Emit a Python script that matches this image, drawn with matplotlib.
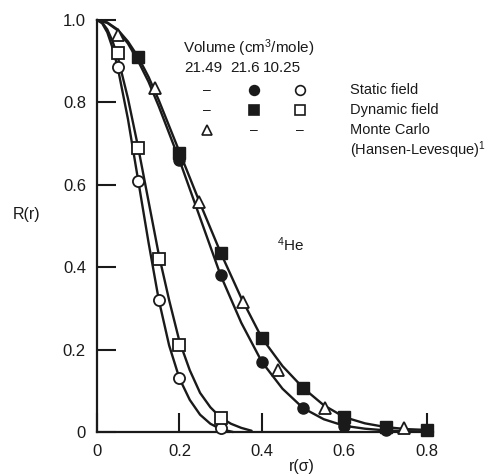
import matplotlib
matplotlib.use("Agg")
import matplotlib.pyplot as plt

plt.rcParams['font.family'] = ['Liberation Sans', 'DejaVu Sans']
plt.rcParams['mathtext.fontset'] = 'custom'
plt.rcParams['mathtext.rm'] = 'Liberation Sans'
plt.rcParams['mathtext.it'] = 'Liberation Sans:italic'

# smooth curves
r_static_lo = [0, 0.0125, 0.025, 0.0375, 0.05, 0.075, 0.1, 0.125, 0.15, 0.175, 0.2, 0.225,
               0.25, 0.275, 0.3, 0.33]
R_static_lo = [1.0, 0.992, 0.970, 0.933, 0.886, 0.76, 0.61, 0.46, 0.32, 0.21, 0.13, 0.078,
               0.042, 0.02, 0.007, 0.0]

r_dyn_lo = [0, 0.0125, 0.025, 0.0375, 0.05, 0.075, 0.1, 0.125, 0.15, 0.175, 0.2, 0.225,
            0.25, 0.275, 0.3, 0.325, 0.35, 0.375]
R_dyn_lo = [1.0, 0.994, 0.977, 0.949, 0.912, 0.81, 0.69, 0.56, 0.43, 0.32, 0.22, 0.15,
            0.095, 0.06, 0.035, 0.02, 0.01, 0.003]

r_dyn_hi = [0, 0.025, 0.05, 0.075, 0.1, 0.125, 0.15, 0.2, 0.25, 0.3, 0.35, 0.4, 0.45, 0.5,
            0.55, 0.6, 0.65, 0.7, 0.75, 0.8]
R_dyn_hi = [1.0, 0.994, 0.977, 0.948, 0.91, 0.862, 0.805, 0.68, 0.555, 0.435, 0.325, 0.228,
            0.16, 0.107, 0.065, 0.036, 0.021, 0.012, 0.007, 0.005]

r_static_hi = [0, 0.025, 0.05, 0.075, 0.1, 0.125, 0.15, 0.2, 0.25, 0.3, 0.35, 0.4, 0.45, 0.5,
               0.55, 0.6, 0.65, 0.7, 0.75, 0.8]
R_static_hi = [1.0, 0.993, 0.975, 0.943, 0.9, 0.85, 0.79, 0.66, 0.52, 0.38, 0.265, 0.17,
               0.105, 0.058, 0.031, 0.015, 0.008, 0.004, 0.002, 0.001]

# marker points
pts_static_hi_r = [0.2, 0.3, 0.4, 0.5, 0.6, 0.7]
pts_static_hi_R = [0.66, 0.38, 0.17, 0.058, 0.015, 0.004]
pts_dyn_hi_r = [0.1, 0.2, 0.3, 0.4, 0.5, 0.6, 0.7, 0.8]
pts_dyn_hi_R = [0.91, 0.677, 0.435, 0.228, 0.107, 0.036, 0.012, 0.005]
pts_static_lo_r = [0.05, 0.1, 0.15, 0.2, 0.3]
pts_static_lo_R = [0.886, 0.61, 0.32, 0.13, 0.01]
pts_dyn_lo_r = [0.05, 0.1, 0.15, 0.2, 0.3]
pts_dyn_lo_R = [0.92, 0.69, 0.42, 0.21, 0.035]
pts_mc_r = [0.05, 0.14, 0.247, 0.355, 0.44, 0.553, 0.745]
pts_mc_R = [0.963, 0.835, 0.558, 0.315, 0.15, 0.058, 0.01]

volumes = ["21.49", "21.6", "10.25"]
rows = ["Static field", "Dynamic field", "Monte Carlo", "(Hansen-Levesque)$^1$"]
xticks = [0, 0.2, 0.4, 0.6, 0.8]
xlabels = ["0", "0.2", "0.4", "0.6", "0.8"]
yticks = [0, 0.2, 0.4, 0.6, 0.8, 1.0]
ylabels = ["0", "0.2", "0.4", "0.6", "0.8", "1.0"]

ink = "#1a1a1a"
fig = plt.figure(figsize=(4.94, 4.75), dpi=100)
ax = fig.add_axes([97 / 494, 1 - 432 / 475, 336 / 494, 412 / 475])
ax.set_xlim(0, 0.815)
ax.set_ylim(0, 1.0)

lw = 1.7
for r, R in [(r_static_lo, R_static_lo), (r_dyn_lo, R_dyn_lo),
             (r_dyn_hi, R_dyn_hi), (r_static_hi, R_static_hi)]:
    ax.plot(r, R, color=ink, lw=lw, solid_capstyle='round', solid_joinstyle='round',
            clip_on=False)

ms = 8
ax.plot(pts_static_hi_r, pts_static_hi_R, 'o', ms=ms, color=ink, clip_on=False, zorder=3)
ax.plot(pts_dyn_hi_r, pts_dyn_hi_R, 's', ms=ms, color=ink, clip_on=False, zorder=3)
ax.plot(pts_static_lo_r, pts_static_lo_R, 'o', ms=ms, mfc='white', mec=ink, mew=1.3,
        clip_on=False, zorder=3)
ax.plot(pts_dyn_lo_r, pts_dyn_lo_R, 's', ms=ms, mfc='white', mec=ink, mew=1.3,
        clip_on=False, zorder=3)
ax.plot(pts_mc_r, pts_mc_R, '^', ms=ms + 1, mfc='white', mec=ink, mew=1.3,
        clip_on=False, zorder=3)

for s in ['top', 'right']:
    ax.spines[s].set_visible(False)
for s in ['left', 'bottom']:
    ax.spines[s].set_linewidth(1.6)
    ax.spines[s].set_color(ink)

ax.set_xticks(xticks)
ax.set_xticklabels(xlabels)
ax.set_yticks(yticks)
ax.set_yticklabels(ylabels)
ax.tick_params(direction='in', length=14, width=1.5, color=ink, labelsize=12,
               labelcolor=ink)
ax.tick_params(axis='y', pad=8)
ax.tick_params(axis='x', pad=9)

fig.text(27 / 494, 1 - 214 / 475, "R(r)", fontsize=11.5, color=ink, ha='center', va='center')
fig.text(302 / 494, 1 - 466 / 475, "r(\u03c3)", fontsize=11.5, color=ink,
         ha='center', va='center')
ax.text(0.47, 0.455, r"$^{4}$He", fontsize=11, color=ink, ha='center', va='center')

# legend block (figure pixel coordinates)
def px(x, y):
    return x / 494, 1 - y / 475

fs = 10.5
fig.text(*px(183, 48), r"Volume (cm$^3$/mole)", fontsize=11, color=ink, va='center')
for v, xc in zip(volumes, [203, 245, 282]):
    fig.text(*px(xc, 68), v, fontsize=11, color=ink, ha='center', va='center')

col_x = [207, 254, 300]
row_y = [90, 110, 130]
row_syms = [
    [None, dict(marker='o', mfc=ink), dict(marker='o', mfc='white')],
    [None, dict(marker='s', mfc=ink), dict(marker='s', mfc='white')],
    [dict(marker='^', mfc='white'), None, None],
]
for ry, syms in zip(row_y, row_syms):
    for cx, sym in zip(col_x, syms):
        if sym is None:
            fig.text(*px(cx, ry), "\u2013", fontsize=10, color=ink, ha='center', va='center')
        else:
            fig.add_artist(plt.Line2D([cx / 494], [1 - ry / 475], ls='none', mec=ink,
                                      mew=1.2, ms=7, transform=fig.transFigure, **sym))

for i, label in enumerate(rows):
    fig.text(*px(350, 90 + 20 * i), label, fontsize=fs, color=ink, va='center')

fig.savefig("out.png", dpi=100)
